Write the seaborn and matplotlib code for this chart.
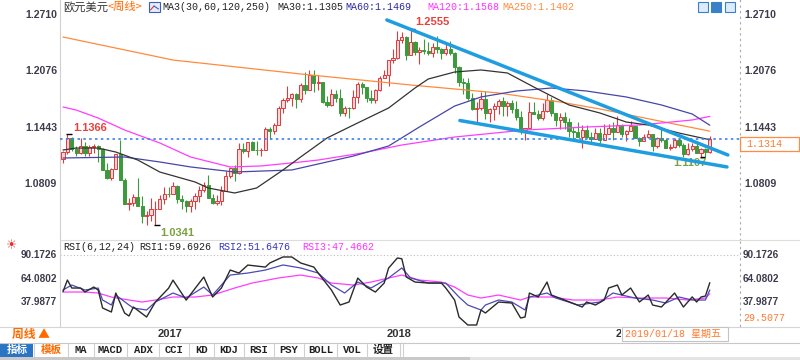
import matplotlib
matplotlib.use("Agg")
import matplotlib.pyplot as plt
import seaborn as sns
import pandas as pd
from matplotlib.lines import Line2D
from matplotlib.patches import Rectangle
from matplotlib.transforms import blended_transform_factory, Bbox, TransformedBbox

# EUR/USD weekly bars, first bar = week of 2016-08-08, last = week of 2019-06-03
opens = [
    1.1085, 1.1165, 1.1325, 1.1200, 1.1155, 1.1235, 1.1155, 1.1225,
    1.1240, 1.1200, 1.0970, 1.0880, 1.0975, 1.1140, 1.0855, 1.0585,
    1.0590, 1.0665, 1.0560, 1.0450, 1.0455, 1.0520, 1.0530, 1.0640,
    1.0700, 1.0695, 1.0785, 1.0640, 1.0615, 1.0560, 1.0620, 1.0670,
    1.0740, 1.0800, 1.0650, 1.0590, 1.0615, 1.0725, 1.0895, 1.0990,
    1.0930, 1.1205, 1.1180, 1.1280, 1.1195, 1.1190, 1.1195, 1.1425,
    1.1400, 1.1470, 1.1665, 1.1750, 1.1775, 1.1820, 1.1760, 1.1925,
    1.1860, 1.2035, 1.1945, 1.1950, 1.1730, 1.1700, 1.1820, 1.1780,
    1.1610, 1.1665, 1.1660, 1.1790, 1.1935, 1.1895, 1.1770, 1.1750,
    1.1860, 1.2005, 1.2030, 1.2200, 1.2225, 1.2425, 1.2460, 1.2255,
    1.2405, 1.2295, 1.2315, 1.2310, 1.2285, 1.2355, 1.2325, 1.2280,
    1.2330, 1.2285, 1.2130, 1.1960, 1.1940, 1.1770, 1.1655, 1.1660,
    1.1765, 1.1610, 1.1655, 1.1685, 1.1745, 1.1685, 1.1720, 1.1655,
    1.1565, 1.1410, 1.1435, 1.1620, 1.1600, 1.1550, 1.1625, 1.1750,
    1.1605, 1.1525, 1.1560, 1.1510, 1.1400, 1.1390, 1.1335, 1.1415,
    1.1335, 1.1315, 1.1380, 1.1305, 1.1370, 1.1440, 1.1395, 1.1470,
    1.1365, 1.1405, 1.1455, 1.1325, 1.1295, 1.1335, 1.1365, 1.1235,
    1.1325, 1.1300, 1.1215, 1.1220, 1.1300, 1.1245, 1.1150, 1.1200,
    1.1235, 1.1155, 1.1205, 1.1170,
]
highs = [
    1.1180, 1.1366, 1.1340, 1.1240, 1.1327, 1.1285, 1.1250, 1.1260,
    1.1250, 1.1210, 1.1040, 1.0990, 1.1145, 1.1300, 1.0870, 1.0650,
    1.0690, 1.0875, 1.0670, 1.0500, 1.0655, 1.0620, 1.0685, 1.0775,
    1.0775, 1.0830, 1.0800, 1.0680, 1.0630, 1.0640, 1.0710, 1.0780,
    1.0830, 1.0905, 1.0700, 1.0680, 1.0780, 1.0950, 1.1000, 1.1025,
    1.1265, 1.1270, 1.1285, 1.1295, 1.1295, 1.1210, 1.1445, 1.1445,
    1.1490, 1.1680, 1.1775, 1.1910, 1.1830, 1.1830, 1.1940, 1.2070,
    1.2090, 1.2090, 1.2035, 1.1960, 1.1795, 1.1880, 1.1860, 1.1880,
    1.1690, 1.1670, 1.1860, 1.1960, 1.1960, 1.1900, 1.1860, 1.1880,
    1.2025, 1.2090, 1.2200, 1.2325, 1.2535, 1.2520, 1.2475, 1.2555,
    1.2415, 1.2355, 1.2445, 1.2410, 1.2390, 1.2475, 1.2340, 1.2395,
    1.2415, 1.2290, 1.2135, 1.1995, 1.1995, 1.1830, 1.1725, 1.1840,
    1.1850, 1.1660, 1.1720, 1.1765, 1.1790, 1.1745, 1.1750, 1.1745,
    1.1625, 1.1440, 1.1735, 1.1735, 1.1640, 1.1720, 1.1815, 1.1790,
    1.1610, 1.1610, 1.1620, 1.1545, 1.1450, 1.1500, 1.1470, 1.1470,
    1.1390, 1.1440, 1.1440, 1.1485, 1.1485, 1.1500, 1.1570, 1.1485,
    1.1415, 1.1515, 1.1460, 1.1340, 1.1370, 1.1420, 1.1375, 1.1340,
    1.1450, 1.1325, 1.1255, 1.1325, 1.1325, 1.1265, 1.1265, 1.1265,
    1.1265, 1.1215, 1.1210, 1.1348,
]
lows = [
    1.1045, 1.1150, 1.1180, 1.1125, 1.1150, 1.1120, 1.1125, 1.1160,
    1.1050, 1.0970, 1.0860, 1.0850, 1.0975, 1.0850, 1.0580, 1.0518,
    1.0560, 1.0560, 1.0365, 1.0350, 1.0390, 1.0341, 1.0520, 1.0580,
    1.0660, 1.0690, 1.0590, 1.0520, 1.0495, 1.0495, 1.0525, 1.0600,
    1.0715, 1.0650, 1.0580, 1.0570, 1.0570, 1.0725, 1.0880, 1.0840,
    1.0925, 1.1160, 1.1110, 1.1185, 1.1130, 1.1120, 1.1190, 1.1310,
    1.1370, 1.1470, 1.1610, 1.1730, 1.1690, 1.1660, 1.1730, 1.1820,
    1.1860, 1.1840, 1.1860, 1.1720, 1.1670, 1.1690, 1.1730, 1.1570,
    1.1575, 1.1555, 1.1650, 1.1720, 1.1820, 1.1730, 1.1720, 1.1720,
    1.1850, 1.2000, 1.1915, 1.2165, 1.2215, 1.2390, 1.2205, 1.2255,
    1.2260, 1.2155, 1.2270, 1.2265, 1.2240, 1.2285, 1.2215, 1.2265,
    1.2255, 1.2055, 1.1910, 1.1825, 1.1750, 1.1645, 1.1510, 1.1640,
    1.1540, 1.1510, 1.1525, 1.1590, 1.1575, 1.1575, 1.1610, 1.1530,
    1.1365, 1.1301, 1.1430, 1.1590, 1.1525, 1.1530, 1.1620, 1.1575,
    1.1460, 1.1430, 1.1430, 1.1335, 1.1300, 1.1335, 1.1215, 1.1325,
    1.1265, 1.1310, 1.1270, 1.1300, 1.1365, 1.1305, 1.1390, 1.1335,
    1.1290, 1.1405, 1.1325, 1.1235, 1.1290, 1.1330, 1.1175, 1.1215,
    1.1275, 1.1215, 1.1185, 1.1210, 1.1225, 1.1110, 1.1135, 1.1175,
    1.1155, 1.1107, 1.1115, 1.1160,
]
closes = [
    1.1165, 1.1325, 1.1200, 1.1155, 1.1235, 1.1155, 1.1225, 1.1240,
    1.1200, 1.0970, 1.0880, 1.0975, 1.1140, 1.0855, 1.0585, 1.0590,
    1.0665, 1.0560, 1.0450, 1.0455, 1.0520, 1.0530, 1.0640, 1.0700,
    1.0695, 1.0785, 1.0640, 1.0615, 1.0560, 1.0620, 1.0670, 1.0740,
    1.0800, 1.0650, 1.0590, 1.0615, 1.0725, 1.0895, 1.0990, 1.0930,
    1.1205, 1.1180, 1.1280, 1.1195, 1.1190, 1.1195, 1.1425, 1.1400,
    1.1470, 1.1665, 1.1750, 1.1775, 1.1820, 1.1760, 1.1925, 1.1860,
    1.2035, 1.1945, 1.1950, 1.1730, 1.1700, 1.1820, 1.1780, 1.1610,
    1.1665, 1.1660, 1.1790, 1.1935, 1.1895, 1.1770, 1.1750, 1.1860,
    1.2005, 1.2030, 1.2200, 1.2225, 1.2425, 1.2460, 1.2255, 1.2405,
    1.2295, 1.2315, 1.2310, 1.2285, 1.2355, 1.2325, 1.2280, 1.2330,
    1.2285, 1.2130, 1.1960, 1.1940, 1.1770, 1.1655, 1.1660, 1.1765,
    1.1610, 1.1655, 1.1685, 1.1745, 1.1685, 1.1720, 1.1655, 1.1565,
    1.1410, 1.1435, 1.1620, 1.1600, 1.1550, 1.1625, 1.1750, 1.1605,
    1.1525, 1.1560, 1.1510, 1.1400, 1.1390, 1.1335, 1.1415, 1.1335,
    1.1315, 1.1380, 1.1305, 1.1370, 1.1440, 1.1395, 1.1470, 1.1365,
    1.1405, 1.1455, 1.1325, 1.1295, 1.1335, 1.1365, 1.1235, 1.1325,
    1.1300, 1.1215, 1.1220, 1.1300, 1.1245, 1.1150, 1.1200, 1.1235,
    1.1155, 1.1205, 1.1170, 1.1314,
]

# moving averages (week index, value)
ma30_idx = [0, 3, 8, 12, 17, 22, 26, 30, 33, 39, 44, 50, 54, 60, 66, 74,
            80, 83, 89, 95, 101, 107, 115, 122, 128, 133, 140, 147]
ma30_val = [1.1190, 1.1212, 1.1212, 1.1167, 1.1077, 1.0942, 1.0886, 1.0830,
            1.0762, 1.0706, 1.0762, 1.0965, 1.1111, 1.1325, 1.1471, 1.1663,
            1.1888, 1.1989, 1.2068, 1.2091, 1.2057, 1.1899, 1.1697, 1.1607,
            1.1505, 1.1471, 1.1381, 1.1305]
ma60_idx = [0, 14, 22, 29, 39, 52, 60, 66, 74, 81, 89, 95, 103, 111, 119,
            128, 136, 143, 147]
ma60_val = [1.1100, 1.1111, 1.1055, 1.0999, 1.0942, 1.0965, 1.1055, 1.1122,
            1.1235, 1.1449, 1.1685, 1.1787, 1.1854, 1.1888, 1.1854, 1.1787,
            1.1697, 1.1595, 1.1469]
ma120_idx = [0, 3, 8, 14, 22, 29, 38, 45, 54, 58, 68, 77, 89, 105, 119, 131,
             136, 143, 147]
ma120_val = [1.1674, 1.1640, 1.1550, 1.1415, 1.1269, 1.1111, 1.0999, 1.1010,
             1.1055, 1.1077, 1.1156, 1.1246, 1.1336, 1.1415, 1.1449, 1.1471,
             1.1494, 1.1528, 1.1568]
ma250_idx = [0, 25, 54, 79, 99, 113, 122, 147]
ma250_val = [1.2462, 1.2203, 1.2046, 1.1922, 1.1832, 1.1730, 1.1652, 1.1402]

# hand-drawn wedge lines (week index, price)
trend_upper_idx = [73.6, 151.1]
trend_upper_val = [1.2654, 1.1134]
trend_lower_idx = [90.2, 150.9]
trend_lower_val = [1.1522, 1.0999]

# RSI(6,12,24)
rsi1_idx = [0, 1, 2, 4, 5, 7, 8, 9, 11, 12, 14, 15, 16, 19, 21, 24, 25, 28,
            32, 34, 36, 38, 40, 42, 46, 47, 50, 52, 54, 57, 58, 61, 63, 65,
            67, 69, 71, 73, 74, 76, 77, 78, 80, 83, 86, 87, 89, 90, 92, 94,
            95, 96, 99, 102, 104, 105, 106, 108, 110, 111, 114, 118, 119,
            121, 123, 124, 126, 127, 129, 131, 133, 134, 136, 139, 141, 143,
            144, 145, 146, 147]
rsi1_val = [49.8, 62.6, 53.8, 53.8, 49.4, 54.9, 51.6, 31.8, 27.4, 48.3, 26.3,
            23.0, 32.9, 21.9, 38.4, 53.6, 62.5, 40.5, 65.9, 43.9, 53.8, 73.6,
            70.3, 79.1, 76.9, 81.4, 88.0, 88.0, 81.4, 76.9, 70.3, 51.6, 35.1,
            38.4, 64.8, 54.9, 49.4, 59.3, 75.8, 86.9, 86.0, 66.0, 60.4, 59.3,
            59.3, 53.8, 40.6, 21.9, 13.1, 13.1, 29.6, 26.3, 38.4, 37.3, 20.8,
            21.9, 48.3, 43.9, 60.4, 46.1, 40.6, 32.9, 38.4, 35.1, 40.6, 53.8,
            57.1, 46.1, 53.8, 38.4, 46.1, 35.1, 32.9, 48.3, 32.9, 44.0, 38.4,
            43.9, 45.0, 59.6926]
rsi2_idx = [0, 2, 5, 8, 9, 11, 12, 15, 16, 19, 21, 25, 28, 32, 34, 38, 42,
            46, 50, 54, 58, 61, 64, 67, 70, 74, 77, 79, 83, 87, 90, 92, 95,
            96, 99, 102, 105, 106, 110, 112, 117, 122, 125, 130, 134, 137,
            140, 143, 146, 147]
rsi2_val = [51.6, 57.1, 51.6, 53.8, 40.6, 35.1, 46.1, 35.1, 31.8, 29.6, 38.4,
            48.3, 42.8, 54.9, 46.1, 68.1, 70.3, 73.6, 79.2, 75.9, 70.3, 57.1,
            48.3, 60.4, 53.8, 64.9, 75.9, 64.9, 59.3, 59.3, 43.9, 35.1, 29.6,
            35.1, 40.6, 38.4, 29.6, 43.9, 48.3, 42.8, 35.1, 38.4, 48.3, 42.8,
            40.6, 37.3, 43.9, 40.6, 40.6, 51.6476]
rsi3_idx = [0, 5, 8, 11, 15, 18, 21, 25, 30, 34, 39, 43, 49, 54, 58, 61, 66,
            70, 77, 81, 86, 89, 92, 95, 99, 104, 106, 111, 116, 122, 126, 131,
            137, 142, 146, 147]
rsi3_val = [49.4, 49.4, 48.3, 43.9, 40.6, 38.4, 40.6, 43.9, 43.9, 46.1, 53.8,
            59.3, 64.9, 68.1, 64.9, 59.3, 57.1, 60.4, 68.1, 62.6, 60.4, 54.9,
            46.1, 42.8, 46.1, 40.6, 43.9, 43.9, 40.6, 40.6, 43.9, 42.8, 42.8,
            40.6, 42.8, 47.4662]

price_ticks = [1.2710, 1.2076, 1.1443, 1.0809]
rsi_ticks = [90.1726, 64.0802, 37.9877]
last_price = 1.1314
year_labels = ["2017", "2018", "2019"]
year_idx = [21, 73, 125]
extremes = [(1, "1.1366", 1.1366), (79, "1.2555", 1.2555),
            (21, "1.0341", 1.0341), (145, "1.1107", 1.1107)]
toolbar_labels = ["指标", "模板", "MA", "MACD", "ADX", "CCI", "KD", "KDJ",
                  "RSI", "PSY", "BOLL", "VOL", "设置"]

W, H = 800, 360
CJK = ["Noto Sans CJK SC", "DejaVu Sans"]
MONO = ["Liberation Mono", "Noto Sans CJK SC"]
SANS = ["Liberation Sans", "DejaVu Sans"]

sns.set_style("white")
plt.rcParams["font.family"] = ["Liberation Sans", "Noto Sans CJK SC", "DejaVu Sans"]

fig = plt.figure(figsize=(8, 3.6), dpi=100)
fig.patch.set_facecolor("white")


def fig_box(x0, y0, x1, y1):
    return [x0 / W, 1 - y1 / H, (x1 - x0) / W, (y1 - y0) / H]


def ftext(px, py, s, **kw):
    kw.setdefault("va", "center")
    return fig.text(px / W, 1 - py / H, s, **kw)


def fline(x0, y0, x1, y1, **kw):
    fig.add_artist(Line2D([x0 / W, x1 / W], [1 - y0 / H, 1 - y1 / H],
                          transform=fig.transFigure, **kw))


def frect(x0, y0, x1, y1, **kw):
    fig.add_artist(Rectangle((x0 / W, 1 - y1 / H), (x1 - x0) / W, (y1 - y0) / H,
                             transform=fig.transFigure, **kw))


ax = fig.add_axes(fig_box(60, 0, 740, 240))
ax_rsi = fig.add_axes(fig_box(60, 240, 740, 326))
xlim = (-0.68, 153.86)

# ---------- candles ----------
df = pd.DataFrame({"week": range(len(closes)), "open": opens, "high": highs,
                   "low": lows, "close": closes})
df["up"] = df["close"] >= df["open"]
df["body_lo"] = df[["open", "close"]].min(axis=1)
df["body_h"] = (df["close"] - df["open"]).abs().clip(lower=0.0005)

RED, RED_FILL, GREEN = "#E0393E", "#FAD6D6", "#3C9A3C"
up, dn = df[df["up"]], df[~df["up"]]
ax.vlines(up["week"], up["low"], up["high"], color=RED, lw=0.8, zorder=2)
ax.vlines(dn["week"], dn["low"], dn["high"], color=GREEN, lw=0.8, zorder=2)
ax.bar(up["week"], up["body_h"], bottom=up["body_lo"], width=0.7,
       facecolor=RED_FILL, edgecolor=RED, linewidth=0.7, zorder=3)
ax.bar(dn["week"], dn["body_h"], bottom=dn["body_lo"], width=0.7,
       facecolor=GREEN, edgecolor=GREEN, linewidth=0.7, zorder=3)

# ---------- moving averages ----------
ma_specs = [(ma250_idx, ma250_val, "#FF8A3D"), (ma120_idx, ma120_val, "#FF3DFF"),
            (ma60_idx, ma60_val, "#4646A8"), (ma30_idx, ma30_val, "#333333")]
for xs, ys, c in ma_specs:
    sns.lineplot(x=xs, y=ys, ax=ax, color=c, linewidth=0.9, zorder=4)

ax.axhline(last_price, color="#3C7FF0", lw=1.2, ls=(0, (1.5, 2)), zorder=4)

for xs, ys in [(trend_upper_idx, trend_upper_val), (trend_lower_idx, trend_lower_val)]:
    sns.lineplot(x=xs, y=ys, ax=ax, color="#1E9EE0", linewidth=2.5, zorder=6)

# extreme markers and labels
for i, lab, v in extremes:
    ax.hlines(v, i - 0.3, i + 1.0, color="black", lw=1.0, zorder=5)
lbl_style = dict(fontsize=8, fontweight="bold", family=SANS, va="center", zorder=5)
ax.text(2.3, 1.1366 + 0.0072, "1.1366", color="#E8413C", ha="left", **lbl_style)
ax.text(80.0, 1.2555 + 0.0076, "1.2555", color="#E8413C", ha="left", **lbl_style)
ax.text(22.0, 1.0341 - 0.0086, "1.0341", color="#7BA23F", ha="left", **lbl_style)
ax.text(138.6, 1.1107 - 0.0063, "1.1107", color="#7BA23F", ha="left", **lbl_style)

ax.set_xlim(*xlim)
ax.set_ylim(1.01765, 1.28789)

# ---------- RSI ----------
rsi_specs = [(rsi3_idx, rsi3_val, "#FF3DFF", 0.9), (rsi2_idx, rsi2_val, "#4A4AB8", 0.9),
             (rsi1_idx, rsi1_val, "#2A2A2A", 1.0)]
for xs, ys, c, lw in rsi_specs:
    sns.lineplot(x=xs, y=ys, ax=ax_rsi, color=c, linewidth=lw, zorder=4)
ax_rsi.axhline(rsi_ticks[0], color="#BDBDBD", lw=0.8, ls=(0, (1, 2)), zorder=1)
ax_rsi.set_xlim(*xlim)
ax_rsi.set_ylim(11.99, 106.69)

for a in (ax, ax_rsi):
    a.set_xticks([])
    a.set_yticks([])
    a.set_xlabel("")
    a.set_ylabel("")
    a.set_facecolor("none")
    for s in ("top", "bottom"):
        a.spines[s].set_visible(False)
    a.spines["left"].set_color("#D0D0D0")
    a.spines["left"].set_linewidth(0.8)
    a.spines["right"].set_color("#A8A8A8")
    a.spines["right"].set_linewidth(0.8)
    a.spines["right"].set_linestyle((0, (1, 4)))

# axis labels
tick_style = dict(fontsize=7.6, fontweight="bold", family=SANS, color="#3C3C4C",
                  va="center", clip_on=False)
tr = blended_transform_factory(ax.transAxes, ax.transData)
for p in price_ticks:
    ax.text(-3 / 680, p, f"{p:.4f}", ha="right", transform=tr, **tick_style)
    ax.text(1 + 4 / 680, p, f"{p:.4f}", ha="left", transform=tr, **tick_style)
tr_r = blended_transform_factory(ax_rsi.transAxes, ax_rsi.transData)
rsi_tick_style = dict(tick_style, fontsize=7.2)
for r in rsi_ticks:
    ax_rsi.text(-3 / 680, r, f"{r:.4f}", ha="right", transform=tr_r, **rsi_tick_style)
    ax_rsi.text(1 + 3 / 680, r, f"{r:.4f}", ha="left", transform=tr_r, **rsi_tick_style)

# year labels under the RSI panel; the date tooltip hides most of the last one
tr_y = blended_transform_factory(ax_rsi.transData, fig.transFigure)
year_clip = TransformedBbox(Bbox([[0, 0], [621 / W, 1]]), fig.transFigure)
for i, lab in zip(year_idx, year_labels):
    t = ax_rsi.text(i + 0.5, 1 - 334 / H, lab, transform=tr_y, ha="left", va="center",
                    fontsize=8, fontweight="bold", family=SANS, color="#333333")
    t.set_clip_on(True)
    t.set_clip_box(year_clip)

# ---------- header texts ----------
ftext(63, 7, "欧元美元", color="#333333", fontsize=8.1, family=CJK)
ftext(108, 7, "<周线>", color="#FF6A00", fontsize=8.1, family=CJK)
frect(149, 2, 160, 12, facecolor="#E6ECFA", edgecolor="#3B5FC0", lw=0.8)
fline(150.5, 10, 154, 6, color="#E0393E", lw=0.8)
fline(154, 6, 158.5, 9, color="#3B5FC0", lw=0.8)
mono = dict(fontsize=7.2, family=MONO)
ftext(162, 7, "MA3(30,60,120,250)", color="#222222", **mono)
ftext(277, 7, f"MA30:{ma30_val[-1]:.4f}", color="#222222", **mono)
ftext(345, 7, f"MA60:{ma60_val[-1]:.4f}", color="#2B2BA0", **mono)
ftext(427, 7, f"MA120:{ma120_val[-1]:.4f}", color="#FF33FF", **mono)
ftext(502, 7, f"MA250:{ma250_val[-1]:.4f}", color="#FF8C40", **mono)

# top right buttons
frect(698, 2, 708, 12, facecolor="#DDEBFA", edgecolor="#3A80C8", lw=0.8)
frect(711, 2, 721, 12, facecolor="#3A80C8", edgecolor="#3A80C8", lw=0.8)
frect(725, 2, 735, 12, facecolor="#DDEBFA", edgecolor="#3A80C8", lw=0.8)

ftext(63, 247, "RSI(6,12,24)", color="#222222", **mono)
ftext(139, 247, f"RSI1:{rsi1_val[-1]:.4f}", color="#222222", **mono)
ftext(218, 247, f"RSI2:{rsi2_val[-1]:.4f}", color="#3434C0", **mono)
ftext(302, 247, f"RSI3:{rsi3_val[-1]:.4f}", color="#FF33FF", **mono)
ftext(12, 246, "☀", color="#E03030", fontsize=9, family=["DejaVu Sans"], ha="center")

# current price box and cursor value
frect(740, 137, 799, 151, facecolor="white", edgecolor="#FF8C40", lw=0.9, zorder=8)
ftext(746, 144, f"{last_price:.4f}", color="#FF7A30", zorder=9, **mono)
ftext(743, 318, "29.5077", color="#FF7A30", **mono)

# panel separators
fline(60, 240, 800, 240, color="#DDDDDD", lw=0.8)
fline(0, 326.5, 800, 326.5, color="#D5D5D5", lw=0.8)

# date strip
ftext(12, 334, "周线 ▲", color="#FF6A00", fontsize=8.5, fontweight="bold", family=CJK)
frect(622, 327, 728, 341, facecolor="white", edgecolor="#C4C4C4", lw=0.8, zorder=10)
ftext(625, 334, "2019/01/18 星期五", color="#FF7A30", fontsize=7.2, family=MONO, zorder=11)

# bottom toolbar
frect(0, 342, 800, 357, facecolor="white", edgecolor="none")
fline(0, 342.5, 800, 342.5, color="#C8C8C8", lw=0.8)
frect(0, 357, 800, 360, facecolor="#E4E4E4", edgecolor="none")
frect(0, 357, 470, 360, facecolor="#C9C9C9", edgecolor="none")
edges = [0, 34, 68, 94, 127, 159, 189, 214, 244, 274, 304, 337, 367, 400]
frect(0, 343, 33, 357, facecolor="#2A74C4", edgecolor="none")
for k, lab in enumerate(toolbar_labels):
    cx = (edges[k] + edges[k + 1]) / 2
    if k == 0:
        color = "white"
    elif k == 1:
        color = "#FF6A00"
    else:
        color = "#222222"
    fam = CJK if not lab.isascii() else MONO
    ftext(cx, 350, lab, color=color, fontsize=7.6, family=fam, ha="center",
          fontweight="bold")
for e in edges[1:] + [403]:
    fline(e, 344, e, 356, color="#D0D0D0", lw=0.8)

fig.savefig("out.png", dpi=100, facecolor="white")
